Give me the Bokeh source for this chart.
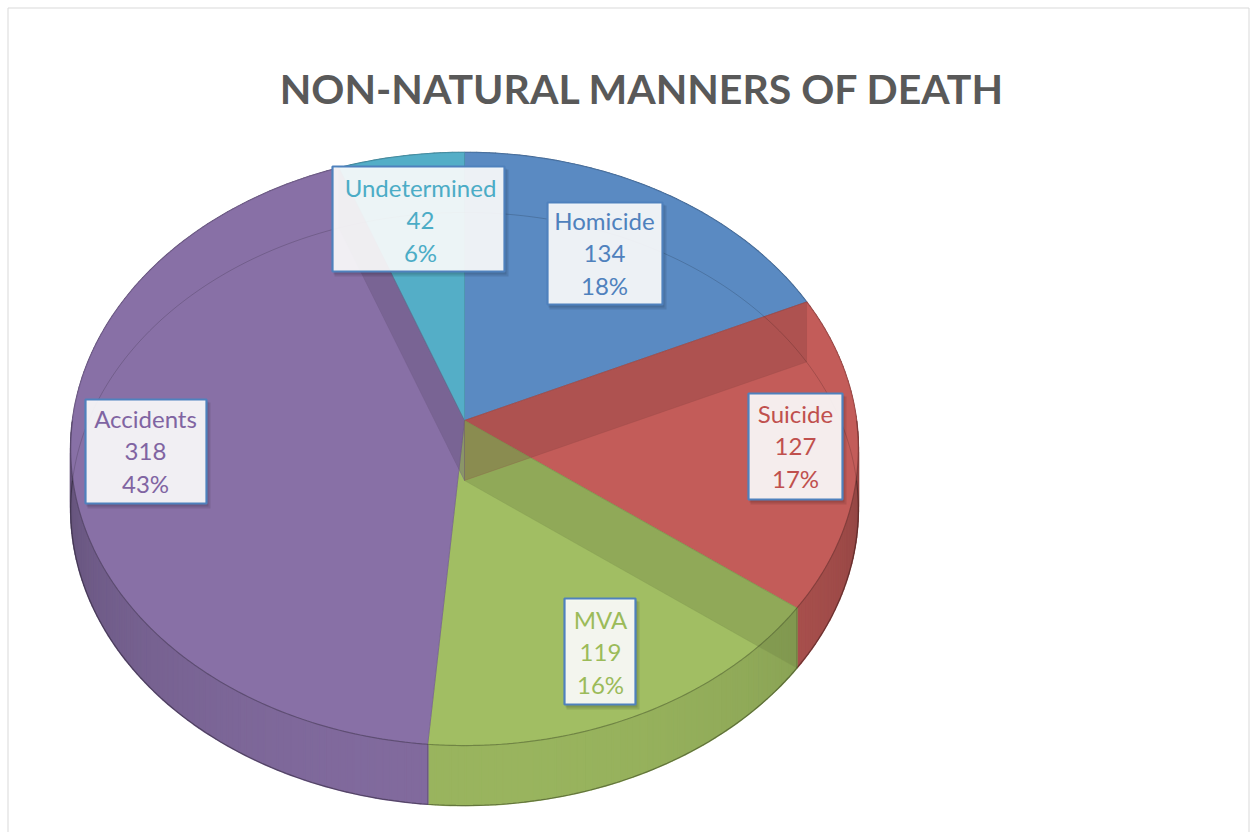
import numpy as np
from bokeh.plotting import figure
from bokeh.models import Range1d
from bokeh.embed import file_html
from bokeh.resources import INLINE
from bokeh.core.properties import value

# ---------------- data ----------------
title_text = "NON-NATURAL MANNERS OF DEATH"
categories = ["Homicide", "Suicide", "MVA", "Accidents", "Undetermined"]
counts = [134, 127, 119, 318, 42]

# ---------------- style / layout ----------------
slice_colors = ["#5A8AC2", "#C35C59", "#A1BE63", "#8870A6", "#54AEC7"]
label_colors = ["#4F81BD", "#C0504D", "#9BBB59", "#8064A2", "#4BACC6"]
# label boxes in page px: left, top, right, bottom, text centre x, first baseline
label_boxes = [
    (547, 202, 662, 304, 604, 229),
    (748, 393, 842, 499, 795, 422),
    (564, 598, 635, 704, 600, 628),
    (85, 399, 206, 503, 145, 427),
    (332, 166, 504, 271, 420, 196),
]
LINE_STEP = 32.5
LABEL_FS = 24
TITLE_FS = 41
BASE_FIX = 0.37            # bokeh draws alphabetic baseline ~0.37em lower
CX, CY = 464.0, 420.0      # projected pie centre
A, B, K = 392.0, 293.8, 0.0961   # perspective ellipse parameters
DEPTH = 60.0               # visible thickness of the pie
# radial walls seen through the translucent top: (boundary index, slice index)
walls = [(0, 1), (1, 2), (3, 3)]
W, H = 1250, 832


def shade(hexc, f):
    h = hexc.lstrip("#")
    r, g, b = (int(h[i:i + 2], 16) for i in (0, 2, 4))
    return "#%02x%02x%02x" % tuple(max(0, min(255, int(round(c * f)))) for c in (r, g, b))


def proj(theta_deg):
    t = np.radians(np.asarray(theta_deg, dtype=float))
    u = np.sin(t)
    v = -np.cos(t)
    d = 1.0 - K * v
    return CX + A * u / d, CY + B * v / d


total = float(sum(counts))
fracs = np.array(counts) / total
ends = np.cumsum(fracs) * 360.0
starts = ends - fracs * 360.0

p = figure(width=W, height=H, x_range=Range1d(0, W), y_range=Range1d(H, 0),
           output_backend="svg", toolbar_location=None, min_border=0,
           x_axis_type=None, y_axis_type=None)
p.grid.visible = False
p.background_fill_color = "white"
p.border_fill_color = "white"
p.outline_line_color = None

# chart frame
p.line([7.5, 7.5, 1248.5, 1248.5], [H + 5, 7.5, 7.5, H + 5], line_color="#D9D9D9", line_width=1)

# ---- outer side of the pie (strips shaded by facing direction) ----
sx, sy, sc = [], [], []
for i in range(len(counts)):
    s, e = starts[i], ends[i]
    n = max(2, int(np.ceil((e - s) / 1.0)) + 1)
    th = np.linspace(s, e, n)
    px, py = proj(th)
    for j in range(n - 1):
        mid = np.radians((th[j] + th[j + 1]) / 2)
        facing = max(0.0, -np.cos(mid))
        f = 0.72 + 0.23 * facing
        sx.append([px[j], px[j + 1], px[j + 1], px[j]])
        sy.append([py[j], py[j + 1], py[j + 1] + DEPTH, py[j] + DEPTH])
        sc.append(shade(slice_colors[i], f))
p.patches(sx, sy, fill_color=sc, line_color=sc, line_width=1.6)

# ---- top faces ----
tx, ty, tl = [], [], []
for i in range(len(counts)):
    s, e = starts[i], ends[i]
    n = max(2, int(np.ceil((e - s) / 0.5)) + 1)
    px, py = proj(np.linspace(s, e, n))
    tx.append([CX] + list(px))
    ty.append([CY] + list(py))
    tl.append(shade(slice_colors[i], 0.85))
p.patches(tx, ty, fill_color=slice_colors, line_color=tl, line_width=1, line_alpha=0.7)

# ---- radial walls visible through the top ----
for bi, si in walls:
    px, py = proj([ends[bi]])
    wx = [CX, px[0], px[0], CX]
    wy = [CY, py[0], py[0] + DEPTH, CY + DEPTH]
    p.patch(wx, wy, fill_color=shade(slice_colors[si], 0.7), fill_alpha=0.35,
            line_color=shade(slice_colors[si], 0.8), line_alpha=0.35, line_width=1)

# ---- outlines ----
th_back = np.linspace(270, 450, 240) % 360
bx, by = proj(th_back)
p.line(bx, by + DEPTH, line_color="black", line_alpha=0.16, line_width=1)
th_front = np.linspace(90, 270, 240)
fx, fy = proj(th_front)
p.line(fx, fy, line_color="black", line_alpha=0.22, line_width=1.2)
p.line(fx, fy + DEPTH, line_color="black", line_alpha=0.35, line_width=1.2)
for bi in range(len(counts)):
    ang = ends[bi] % 360
    if 90 < ang < 270:
        px, py = proj([ang])
        p.line([px[0], px[0]], [py[0], py[0] + DEPTH], line_color="black",
               line_alpha=0.2, line_width=1)

# ---- data labels ----
L = [b[0] for b in label_boxes]
T = [b[1] for b in label_boxes]
R = [b[2] for b in label_boxes]
Bm = [b[3] for b in label_boxes]
p.quad(left=[v + 2 for v in L], right=[v + 4 for v in R], top=[v + 3 for v in T],
       bottom=[v + 5 for v in Bm], fill_color="black", fill_alpha=0.10, line_color=None)
p.quad(left=[v + 1 for v in L], right=[v + 2 for v in R], top=[v + 2 for v in T],
       bottom=[v + 3 for v in Bm], fill_color="black", fill_alpha=0.10, line_color=None)
p.quad(left=L, right=R, top=T, bottom=Bm, fill_color="white", fill_alpha=0.9,
       line_color="#4F81BD", line_width=2.2)

lx, ly, lt, lc = [], [], [], []
for i, name in enumerate(categories):
    pct = int(round(100.0 * counts[i] / total))
    lines = [name, str(counts[i]), f"{pct}%"]
    for k, t in enumerate(lines):
        lx.append(label_boxes[i][4])
        ly.append(label_boxes[i][5] + k * LINE_STEP - BASE_FIX * LABEL_FS)
        lt.append(t)
        lc.append(label_colors[i])
p.text(x=lx, y=ly, text=lt, text_color=lc, text_font=value("Lato"),
       text_font_size=f"{LABEL_FS}px", text_align="center", text_baseline="alphabetic")

# ---- title ----
p.text(x=[642], y=[103 - BASE_FIX * TITLE_FS], text=[title_text], text_color="#595959",
       text_font=value("Lato"), text_font_style="bold", text_font_size=f"{TITLE_FS}px",
       text_align="center", text_baseline="alphabetic")

open("out.html", "w").write(file_html(p, INLINE))
